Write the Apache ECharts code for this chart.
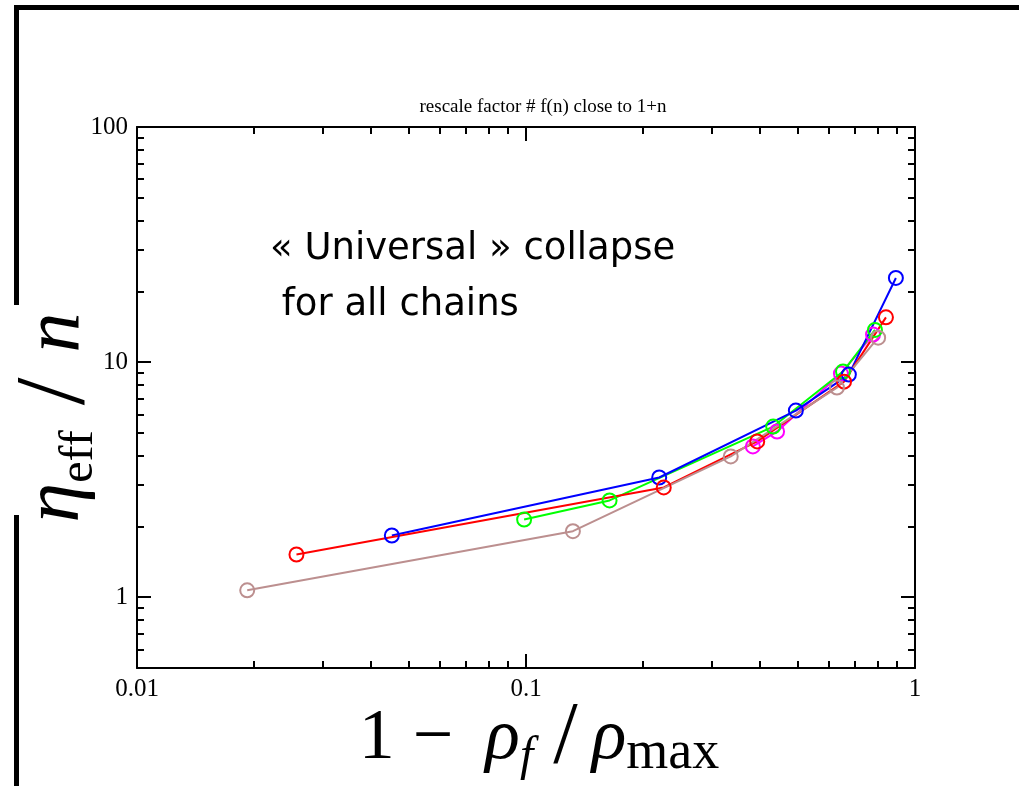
<!DOCTYPE html>
<html><head><meta charset="utf-8">
<script src="https://cdn.jsdelivr.net/npm/echarts@6/dist/echarts.min.js"></script>
<style>html,body{margin:0;padding:0;background:#fff}#c{width:1019px;height:786px}</style>
</head><body><div id="c"></div>
<script>
// ---- tick values ----
const xMajor = [0.01, 0.1, 1];
const xMinor = [0.02, 0.03, 0.04, 0.05, 0.06, 0.07, 0.08, 0.09, 0.2, 0.3, 0.4, 0.5, 0.6, 0.7, 0.8, 0.9];
const yMajor = [1, 10, 100];
const yMinor = [0.6, 0.7, 0.8, 0.9, 2, 3, 4, 5, 6, 7, 8, 9, 20, 30, 40, 50, 60, 70, 80, 90];

// ---- series data (x = 1 - rho_f/rho_max, y = eta_eff / n) ----
const magentaX = [0.383, 0.442, 0.645, 0.780];
const magentaY = [4.38, 5.07, 8.94, 13.1];
const greenX = [0.0989, 0.164, 0.432, 0.653, 0.789];
const greenY = [2.14, 2.58, 5.32, 9.12, 13.7];
const blueX = [0.0452, 0.220, 0.494, 0.676, 0.893];
const blueY = [1.83, 3.23, 6.22, 8.85, 22.8];
const redX = [0.0257, 0.226, 0.393, 0.657, 0.842];
const redY = [1.52, 2.93, 4.60, 8.26, 15.5];
const brownX = [0.0192, 0.132, 0.336, 0.630, 0.804];
const brownY = [1.07, 1.91, 3.97, 7.79, 12.7];

const titleText = 'rescale factor # f(n) close to 1+n';
const noteText = '« Universal » collapse\n for all chains';

const SERIF = '"Liberation Serif", "DejaVu Serif", serif';
const fmt = v => String(+Number(v).toPrecision(6));

function zip(xs, ys) { return xs.map((x, i) => [x, ys[i]]); }

function mkSeries(name, xs, ys, color) {
  return {
    name, type: 'line', data: zip(xs, ys),
    symbol: 'circle', symbolSize: 14,
    itemStyle: { color: 'rgba(0,0,0,0)', borderColor: color, borderWidth: 2 },
    lineStyle: { color: color, width: 2 },
    emphasis: { disabled: true },
    animation: false
  };
}

function axis(kind, pos, ticks, len, main) {
  const isX = kind === 'x';
  return {
    type: 'log', logBase: 10,
    min: isX ? 0.01 : 0.5, max: isX ? 1 : 100,
    position: pos,
    axisLine: { show: main, onZero: false, lineStyle: { color: '#000', width: 2 } },
    axisTick: { show: true, inside: true, length: len, customValues: ticks, lineStyle: { color: '#000', width: 2 } },
    axisLabel: { show: false },
    splitLine: { show: false },
    minorTick: { show: false },
    minorSplitLine: { show: false }
  };
}

const xa0 = axis('x', 'bottom', xMajor, 14, true);
xa0.axisLabel = { show: true, customValues: xMajor, formatter: fmt, margin: 9,
  fontFamily: SERIF, fontSize: 25, color: '#000' };
xa0.name = '{n|1 − }{a|ρ}{s|f}{sl|/}{i|ρ}{r|max}';
xa0.nameLocation = 'middle';
xa0.nameGap = 29;
xa0.nameMoveOverlap = false;
xa0.nameTextStyle = {
  color: '#000',
  padding: [0, 0, 0, 26],
  rich: {
    n: { fontFamily: SERIF, fontSize: 72, lineHeight: 84, color: '#000' },
    a: { fontFamily: SERIF, fontStyle: 'italic', fontSize: 72, lineHeight: 84, color: '#000', padding: [0, 0, 0, 14] },
    i: { fontFamily: SERIF, fontStyle: 'italic', fontSize: 72, lineHeight: 84, color: '#000' },
    sl: { fontFamily: SERIF, fontSize: 88, lineHeight: 84, color: '#000', padding: [0, 14, 0, 0] },
    s: { fontFamily: SERIF, fontStyle: 'italic', fontSize: 48, lineHeight: 44, verticalAlign: 'bottom', color: '#000', padding: [0, 20, 0, 0] },
    r: { fontFamily: SERIF, fontSize: 54, lineHeight: 46, verticalAlign: 'bottom', color: '#000' }
  }
};

const ya0 = axis('y', 'left', yMajor, 14, true);
ya0.axisLabel = { show: true, customValues: yMajor, formatter: fmt, margin: 9,
  fontFamily: SERIF, fontSize: 25, color: '#000' };
ya0.name = '{i|η}{r|eff}{sl| / }{i|n}';
ya0.nameLocation = 'middle';
ya0.nameRotate = 90;
ya0.nameGap = 34;
ya0.nameMoveOverlap = false;
ya0.nameTextStyle = {
  color: '#000',
  padding: [0, 40, 0, 0],
  rich: {
    sl: { fontFamily: SERIF, fontSize: 100, lineHeight: 92, color: '#000' },
    i: { fontFamily: SERIF, fontStyle: 'italic', fontSize: 80, lineHeight: 92, color: '#000' },
    r: { fontFamily: SERIF, fontSize: 48, lineHeight: 48, verticalAlign: 'bottom', color: '#000' }
  }
};

const option = {
  backgroundColor: '#fff',
  animation: false,
  title: {
    text: titleText, left: 538, top: 93, textAlign: 'center',
    textStyle: { fontFamily: SERIF, fontWeight: 'normal', fontSize: 19, color: '#000' }
  },
  grid: { left: 137, right: 104, top: 127, bottom: 118, containLabel: false, outerBoundsMode: 'none' },
  xAxis: [
    xa0,
    axis('x', 'bottom', xMinor, 7, false),
    axis('x', 'top', xMajor, 14, true),
    axis('x', 'top', xMinor, 7, false)
  ],
  yAxis: [
    ya0,
    axis('y', 'left', yMinor, 7, false),
    axis('y', 'right', yMajor, 14, true),
    axis('y', 'right', yMinor, 7, false)
  ],
  graphic: [
    { type: 'rect', shape: { x: 14, y: 5, width: 1005, height: 5 }, style: { fill: '#000' }, silent: true },
    { type: 'rect', shape: { x: 14, y: 5, width: 5, height: 300 }, style: { fill: '#000' }, silent: true },
    { type: 'rect', shape: { x: 14, y: 515, width: 5, height: 271 }, style: { fill: '#000' }, silent: true },
    { type: 'text', left: 270, top: 221, silent: true,
      style: { text: noteText, font: '37px "DejaVu Sans"', fill: '#000', lineHeight: 56 } }
  ],
  series: [
    mkSeries('magenta', magentaX, magentaY, '#ff00ff'),
    mkSeries('green', greenX, greenY, '#00ff00'),
    mkSeries('blue', blueX, blueY, '#0000ff'),
    mkSeries('red', redX, redY, '#ff0000'),
    mkSeries('brown', brownX, brownY, '#bc8f8f')
  ]
};

const chart = echarts.init(document.getElementById('c'), null, { renderer: 'canvas' });
chart.setOption(option);
</script></body></html>
